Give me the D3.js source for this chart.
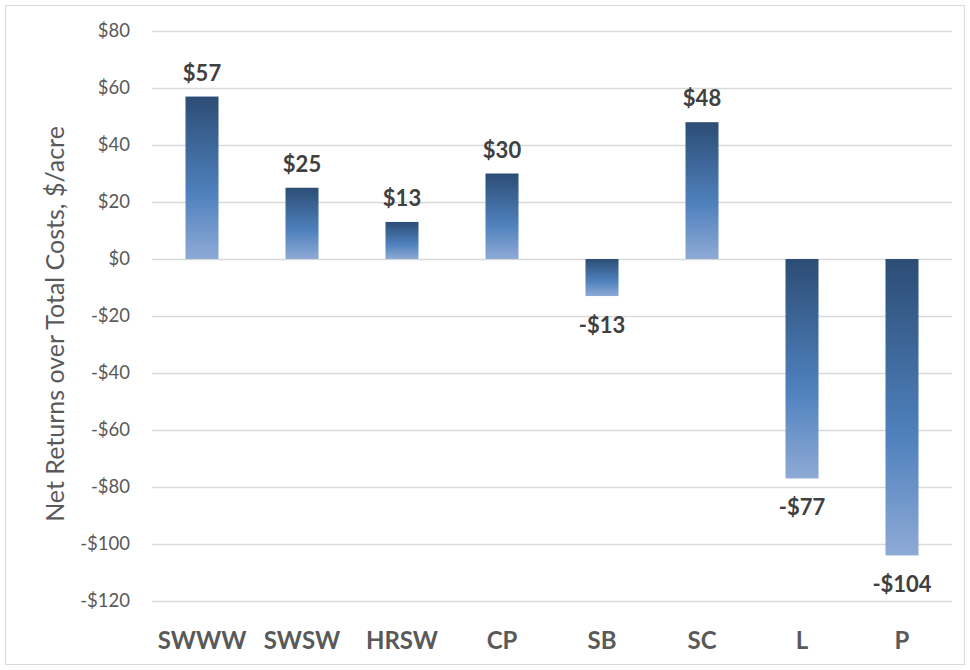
<!DOCTYPE html>
<html>
<head>
<meta charset="utf-8">
<script src="https://cdn.jsdelivr.net/npm/d3@7"></script>
<style>
  body { margin: 0; background: #fff; }
</style>
</head>
<body>
<div id="chart"></div>
<script>
// Datos del gráfico
const categories = ["SWWW", "SWSW", "HRSW", "CP", "SB", "SC", "L", "P"];
const values = [57, 25, 13, 30, -13, 48, -77, -104];
const yTicks = [80, 60, 40, 20, 0, -20, -40, -60, -80, -100, -120];

const W = 970, H = 670;
const margin = { top: 31, right: 18, bottom: 69, left: 152 };
const width = W - margin.left - margin.right;
const height = H - margin.top - margin.bottom;

const svg = d3.select("#chart").append("svg")
    .attr("width", W)
    .attr("height", H);

// Marco exterior
svg.append("rect")
    .attr("x", 5.5).attr("y", 5.5)
    .attr("width", W - 11).attr("height", H - 11)
    .attr("fill", "#fff")
    .attr("stroke", "#d9d9d9");

// Degradado de las barras
const defs = svg.append("defs");
const grad = defs.append("linearGradient")
    .attr("id", "barGrad")
    .attr("x1", 0).attr("y1", 0).attr("x2", 0).attr("y2", 1);
grad.append("stop").attr("offset", "0%").attr("stop-color", "#2c4d75");
grad.append("stop").attr("offset", "60%").attr("stop-color", "#4f81bd");
grad.append("stop").attr("offset", "100%").attr("stop-color", "#8eaad6");

const g = svg.append("g")
    .attr("transform", `translate(${margin.left},${margin.top})`);

// Escalas
const x = d3.scaleBand()
    .domain(categories)
    .range([0, width])
    .paddingInner(0.67)
    .paddingOuter(0.335);

const y = d3.scaleLinear()
    .domain([-120, 80])
    .range([height, 0]);

// Líneas de cuadrícula
g.selectAll(".grid")
    .data(yTicks)
    .enter()
    .append("line")
    .attr("x1", 0).attr("x2", width)
    .attr("y1", d => Math.round(y(d)) + 0.5)
    .attr("y2", d => Math.round(y(d)) + 0.5)
    .attr("stroke", "#d9d9d9")
    .attr("stroke-width", 1.5);

// Etiquetas eje Y
const fmt = d => (d < 0 ? "-$" : "$") + Math.abs(d);
g.selectAll(".ytick")
    .data(yTicks)
    .enter()
    .append("text")
    .attr("x", -22)
    .attr("y", d => y(d))
    .attr("dy", "0.35em")
    .attr("text-anchor", "end")
    .attr("font-family", "Lato, 'Open Sans', sans-serif")
    .attr("font-size", "18.5px")
    .attr("fill", "#595959")
    .text(fmt);

// Barras
g.selectAll(".bar")
    .data(values)
    .enter()
    .append("rect")
    .attr("x", (d, i) => x(categories[i]))
    .attr("width", x.bandwidth())
    .attr("y", d => y(Math.max(0, d)))
    .attr("height", d => Math.abs(y(d) - y(0)))
    .attr("fill", "url(#barGrad)");

// Etiquetas de valores
g.selectAll(".val")
    .data(values)
    .enter()
    .append("text")
    .attr("x", (d, i) => x(categories[i]) + x.bandwidth() / 2)
    .attr("y", d => d >= 0 ? y(d) - 16 : y(d) + 37)
    .attr("text-anchor", "middle")
    .attr("font-family", "Lato, 'Open Sans', sans-serif")
    .attr("font-weight", "bold")
    .attr("font-size", "22px")
    .attr("fill", "#404040")
    .text(fmt);

// Etiquetas de categorías
g.selectAll(".cat")
    .data(categories)
    .enter()
    .append("text")
    .attr("x", d => x(d) + x.bandwidth() / 2)
    .attr("y", height + 48)
    .attr("text-anchor", "middle")
    .attr("font-family", "Lato, 'Open Sans', sans-serif")
    .attr("font-weight", "bold")
    .attr("font-size", "24px")
    .attr("fill", "#595959")
    .text(d => d);

// Título del eje Y
svg.append("text")
    .attr("transform", `translate(64,${margin.top + height / 2 + 8}) rotate(-90)`)
    .attr("text-anchor", "middle")
    .attr("font-family", "Lato, 'Open Sans', sans-serif")
    .attr("font-size", "25px")
    .attr("fill", "#595959")
    .text("Net Returns over Total Costs, $/acre");
</script>
</body>
</html>
